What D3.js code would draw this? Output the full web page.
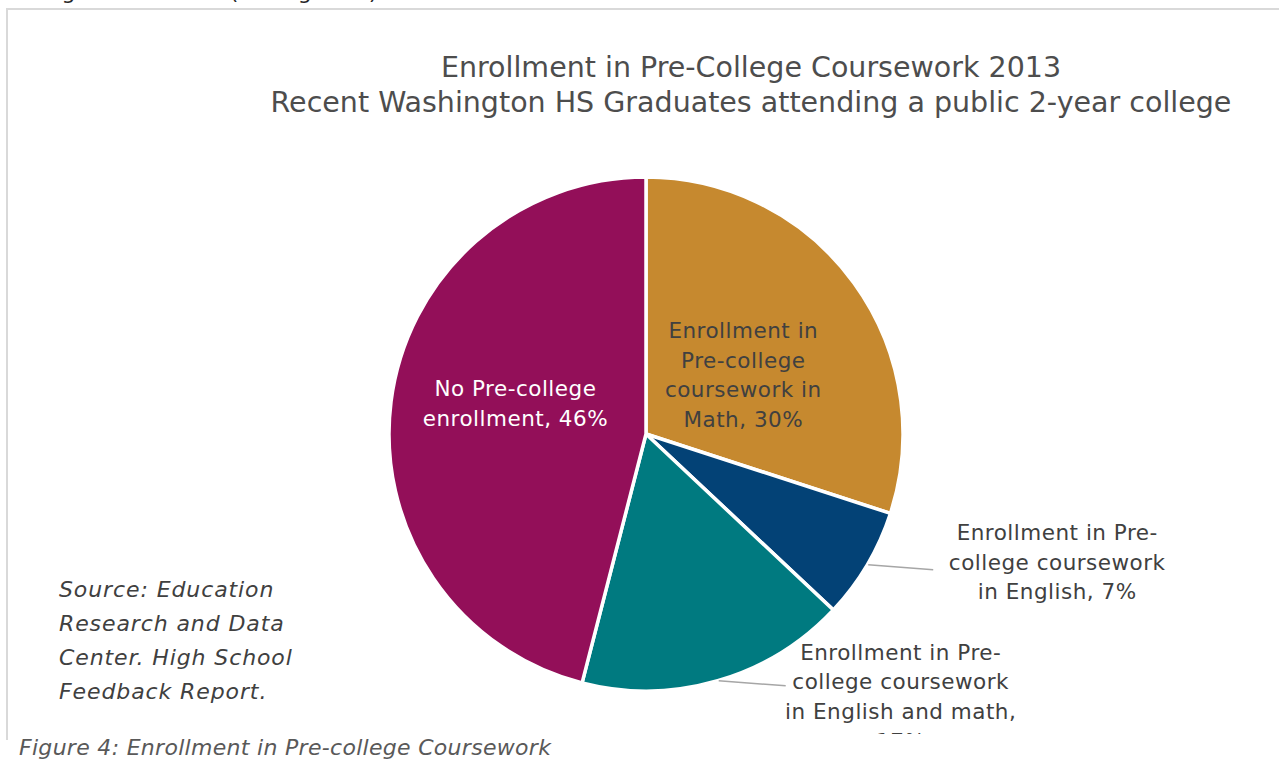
<!DOCTYPE html>
<html>
<head>
<meta charset="utf-8">
<script src="https://cdn.jsdelivr.net/npm/d3@7"></script>
<style>
  body { margin: 0; background: #fff; }
  text { font-family: "DejaVu Sans", sans-serif; }
</style>
</head>
<body>
<div id="my_dataviz"></div>
<script>
var width = 1279,
    height = 759

// data
var categories = ["Math", "English", "English and math", "None"]
var values = [30, 7, 17, 46]
var labelLines = [
  ["Enrollment in", "Pre-college", "coursework in", "Math, 30%"],
  ["Enrollment in Pre-", "college coursework", "in English, 7%"],
  ["Enrollment in Pre-", "college coursework", "in English and math,", "17%"],
  ["No Pre-college", "enrollment, 46%"]
]
var colors = ["#c6892f", "#034276", "#007a80", "#930f59"]

var cx = 646, cy = 434, radius = 257

var svg = d3.select("#my_dataviz")
  .append("svg")
    .attr("width", width)
    .attr("height", height)

// text above the chart box, mostly cut off by the page top
svg.append("text")
  .attr("x", -157).attr("y", -1)
  .style("font-size", "22px")
  .attr("fill", "#262626")
  .text("enrolled in pre-college coursework (see figure 4).")

svg.append("defs").append("clipPath").attr("id", "box")
  .append("rect").attr("x", 0).attr("y", 9).attr("width", width).attr("height", 725)

// chart frame: only top and left edges are in view
svg.append("path")
  .attr("d", "M7,740V9H1290")
  .attr("fill", "none")
  .attr("stroke", "#d9d9d9")
  .attr("stroke-width", 2)

var chart = svg.append("g").attr("clip-path", "url(#box)")

var title = chart.append("text")
  .attr("text-anchor", "middle")
  .attr("fill", "#4d4d4d")
  .style("font-size", "28.5px")
title.append("tspan").attr("x", 751).attr("y", 77).text("Enrollment in Pre-College Coursework 2013")
title.append("tspan").attr("x", 751).attr("y", 112).text("Recent Washington HS Graduates attending a public 2-year college")

var pie = d3.pie()
  .sort(null)
  .value(function(d) { return d })
var data_ready = pie(values)

var arc = d3.arc()
  .innerRadius(0)
  .outerRadius(radius)

var g = chart.append("g")
  .attr("transform", "translate(" + cx + "," + cy + ")")

g.selectAll("slices")
  .data(data_ready)
  .enter()
  .append("path")
  .attr("d", arc)
  .attr("fill", function(d, i) { return colors[i] })
  .attr("stroke", "white")
  .style("stroke-width", "3.5px")

// label layout: inside labels sit on a radius, outside ones get a leader line
var layout = [
  { inside: true, r: 0.42, dx: 10, dy: 5, color: "#404040" },
  { inside: false, lead: 66, lx: 190, ly: -25, color: "#404040" },
  { inside: false, lead: 68, lx: 183, ly: -21, color: "#404040" },
  { inside: true, r: 0.52, dx: 2, dy: -13, color: "#ffffff" }
]
var lineH = 29.7

data_ready.forEach(function(d, i) {
  var L = layout[i]
  var px, py
  if (L.inside) {
    var c = d3.arc().innerRadius(0).outerRadius(2 * radius * L.r).centroid(d)
    px = c[0] + L.dx
    py = c[1] + L.dy
  } else {
    var e = d3.arc().innerRadius(radius).outerRadius(radius).centroid(d)
    var ex = e[0] + L.lead, ey = e[1] + 5
    g.append("polyline")
      .attr("points", [[e[0] + 1, e[1]], [ex, ey]])
      .attr("fill", "none")
      .attr("stroke", "#a6a6a6")
      .attr("stroke-width", 1.5)
    px = e[0] + L.lx
    py = e[1] + L.ly
  }
  var lines = labelLines[i]
  var t = g.append("text")
    .attr("text-anchor", "middle")
    .attr("fill", L.color)
    .style("font-size", "21.5px")
    .style("letter-spacing", "0.5px")
  lines.forEach(function(s, k) {
    var y0 = L.inside ? py - (lines.length - 1) * lineH / 2 + 7 : py
    t.append("tspan").attr("x", px).attr("y", y0 + k * lineH).text(s)
  })
})

// source note
var src = chart.append("text")
  .attr("fill", "#404040")
  .style("font-size", "22px")
  .style("letter-spacing", "0.9px")
  .style("font-style", "italic")
;["Source: Education", "Research and Data", "Center. High School", "Feedback Report."].forEach(function(s, k) {
  src.append("tspan").attr("x", 59).attr("y", 597 + k * 34).text(s)
})

svg.append("text")
  .attr("x", 19).attr("y", 755)
  .attr("fill", "#595959")
  .style("font-size", "22px")
  .style("letter-spacing", "0.3px")
  .style("font-style", "italic")
  .text("Figure 4: Enrollment in Pre-college Coursework")
</script>
</body>
</html>
